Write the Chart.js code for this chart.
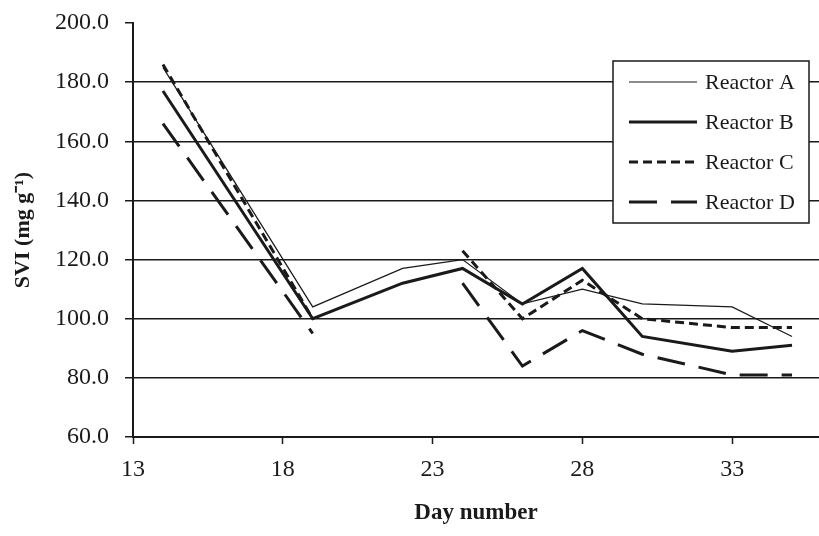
<!DOCTYPE html>
<html>
<head>
<meta charset="utf-8">
<script src="https://cdn.jsdelivr.net/npm/chart.js"></script>
<style>
    body { margin: 0; background: #fff; }
    #wrap { width: 819px; height: 536px; }
</style>
</head>
<body>
<div id="wrap"><canvas id="sviChart" width="819" height="536"></canvas></div>
<script>
// values
const days = [14, 19, 22, 24, 26, 28, 30, 33, 35];
const reactorA = [185, 104, 117, 120, 105, 110, 105, 104, 94];
const reactorB = [177, 100, 112, 117, 105, 117, 94, 89, 91];
const reactorC = [186, 100, null, 123, 100, 113, 100, 97, 97];
const reactorD = [166, 95, null, 112, 84, 96, 88, 81, 81];
const seriesNames = ['Reactor A', 'Reactor B', 'Reactor C', 'Reactor D'];
const xTicks = [13, 18, 23, 28, 33];
const yTicks = [60, 80, 100, 120, 140, 160, 180, 200];

const ink = '#1a1a1a';
const serif = 'Liberation Serif';

function toPoints(values) {
    return days.map((d, i) => ({ x: d, y: values[i] }));
}

// legend box sits inside the plot, drawn by hand
const boxLegend = {
    id: 'boxLegend',
    afterDraw(chart) {
        const c = chart.ctx;
        const left = 613, top = 61, w = 196, h = 162;
        c.save();
        c.fillStyle = '#fff';
        c.fillRect(left, top, w, h);
        c.strokeStyle = ink;
        c.lineWidth = 1.5;
        c.strokeRect(left, top, w, h);
        chart.data.datasets.forEach((ds, i) => {
            const y = top + 21 + i * 40;
            c.beginPath();
            c.strokeStyle = ds.borderColor;
            c.lineWidth = ds.borderWidth;
            c.setLineDash(i === 3 ? [28, 14] : (ds.borderDash || []));
            c.moveTo(left + 16, y);
            c.lineTo(left + 84, y);
            c.stroke();
            c.setLineDash([]);
            c.fillStyle = ink;
            c.font = '22px "' + serif + '"';
            c.textBaseline = 'middle';
            c.textAlign = 'left';
            c.fillText(ds.label, left + 92, y + 1);
        });
        c.restore();
    }
};

const ctx = document.getElementById('sviChart').getContext('2d');
const sviChart = new Chart(ctx, {
    type: 'line',
    data: {
        datasets: [
            {
                label: seriesNames[0],
                data: toPoints(reactorA),
                borderColor: ink,
                borderWidth: 1.2
            },
            {
                label: seriesNames[1],
                data: toPoints(reactorB),
                borderColor: ink,
                borderWidth: 3
            },
            {
                label: seriesNames[2],
                data: toPoints(reactorC),
                borderColor: ink,
                borderWidth: 3,
                borderDash: [9, 5]
            },
            {
                label: seriesNames[3],
                data: toPoints(reactorD),
                borderColor: ink,
                borderWidth: 3,
                borderDash: [28, 14]
            }
        ]
    },
    options: {
        responsive: false,
        animation: false,
        spanGaps: false,
        elements: {
            point: { radius: 0 },
            line: { tension: 0, fill: false }
        },
        layout: { padding: { top: 23, right: 0, left: 0, bottom: 0 } },
        plugins: {
            legend: { display: false },
            tooltip: { enabled: false }
        },
        scales: {
            x: {
                type: 'linear',
                min: 13,
                max: 35.9,
                afterBuildTicks: scale => { scale.ticks = xTicks.map(v => ({ value: v })); },
                afterFit: scale => { scale.height = 99; },
                grid: {
                    drawOnChartArea: false,
                    drawTicks: true,
                    tickLength: 7,
                    tickColor: ink,
                    tickWidth: 1.5
                },
                border: { color: ink, width: 2 },
                ticks: {
                    padding: 11,
                    color: ink,
                    font: { family: serif, size: 24 },
                    maxRotation: 0
                },
                title: {
                    display: true,
                    text: 'Day number',
                    color: ink,
                    font: { family: serif, size: 23, weight: 'bold' },
                    padding: { top: 0, bottom: 9 }
                }
            },
            y: {
                min: 60,
                max: 200,
                afterBuildTicks: scale => { scale.ticks = yTicks.map(v => ({ value: v })); },
                afterFit: scale => {
                    scale.width = 133;
                    scale.paddingTop = 0;
                    scale.paddingBottom = 0;
                },
                grid: {
                    color: c => (c.tick && c.tick.value === 200 ? 'rgba(0,0,0,0)' : ink),
                    lineWidth: 1.5,
                    tickLength: 8,
                    tickColor: ink,
                    tickWidth: 1.5
                },
                border: { color: ink, width: 2 },
                ticks: {
                    padding: 16,
                    color: ink,
                    font: { family: serif, size: 24 },
                    callback: v => v.toFixed(1)
                },
                title: {
                    display: true,
                    text: 'SVI (mg g\u207B\u00B9)',
                    color: ink,
                    font: { family: serif, size: 22, weight: 'bold' },
                    padding: { top: 10, bottom: 0 }
                }
            }
        }
    },
    plugins: [boxLegend]
});
</script>
</body>
</html>
